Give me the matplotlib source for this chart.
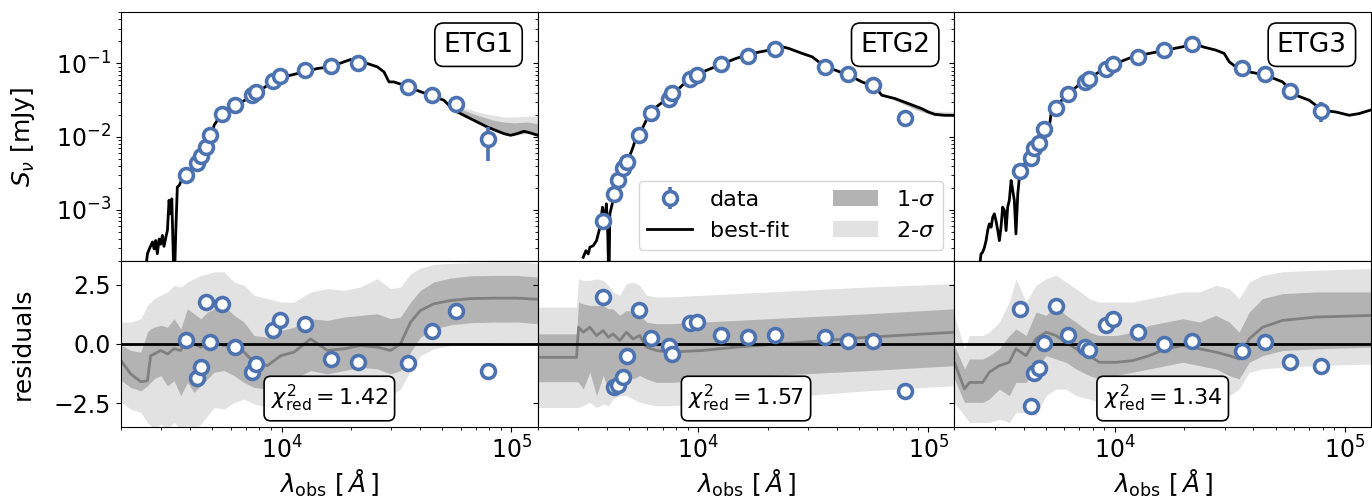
import numpy as np
import matplotlib
matplotlib.use('Agg')
import matplotlib.pyplot as plt
from matplotlib.patches import Patch
from matplotlib.ticker import MultipleLocator

# ---------------- data ----------------
names = ['ETG1', 'ETG2', 'ETG3']
chi2_red = [1.42, 1.57, 1.34]

wave = [3850, 4290, 4460, 4690, 4900, 5520, 6250, 7430, 7710, 9160, 9840,
        12590, 16400, 21530, 35600, 44900, 57500, 79000]

flux1 = [2.98e-3, 4.4e-3, 5.37e-3, 7.2e-3, 0.0104, 0.0207, 0.0274, 0.0371, 0.0405,
         0.0573, 0.0664, 0.0817, 0.0927, 0.103, 0.0473, 0.0376, 0.0283, 0.0092]
flux2 = [6.98e-4, 1.64e-3, 2.52e-3, 3.76e-3, 4.49e-3, 0.0104, 0.0213, 0.0324, 0.0392,
         0.061, 0.0698, 0.0969, 0.126, 0.157, 0.0898, 0.0713, 0.050, 0.0177]
flux3 = [3.42e-3, 5.05e-3, 6.99e-3, 8.26e-3, 0.0126, 0.0247, 0.0388, 0.056, 0.0615,
         0.0853, 0.0978, 0.1245, 0.152, 0.186, 0.0871, 0.0721, 0.0426, 0.0227]

err1 = [1e-4, 1e-4, 1e-4, 1e-4, 2e-4, 3e-4, 4e-4, 5e-4, 5e-4, 8e-4, 9e-4,
        1e-3, 1e-3, 1e-3, 1e-3, 1e-3, 1.5e-3, 4.5e-3]
err2 = [3e-5, 5e-5, 8e-5, 1e-4, 1e-4, 2e-4, 3e-4, 5e-4, 5e-4, 8e-4, 9e-4,
        1e-3, 1e-3, 1e-3, 1e-3, 1e-3, 1.5e-3, 4.0e-3]
err3 = [1e-4, 1e-4, 1e-4, 1e-4, 2e-4, 3e-4, 4e-4, 5e-4, 5e-4, 8e-4, 9e-4,
        1e-3, 1e-3, 1e-3, 1e-3, 1e-3, 1.5e-3, 6.8e-3]

res1 = [0.15, -1.46, -0.96, 1.76, 0.07, 1.69, -0.14, -1.20, -0.85, 0.58, 0.99,
        0.82, -0.64, -0.78, -0.79, 0.56, 1.37, -1.16]
res2 = [1.96, -1.81, -1.74, -1.39, -0.50, 1.41, 0.24, -0.10, -0.45, 0.87, 0.92,
        0.39, 0.28, 0.39, 0.30, 0.14, 0.10, -1.98]
res3 = [1.48, -2.61, -1.23, -1.00, 0.03, 1.58, 0.38, -0.14, -0.27, 0.80, 1.03,
        0.48, 0.01, 0.13, -0.30, 0.07, -0.75, -0.93]

# best-fit model spectra: log10(lambda/A), log10(S/mJy)
m1_loglam = [3.409, 3.416, 3.4275, 3.438, 3.445, 3.452, 3.459, 3.467, 3.474, 3.481,
             3.488, 3.496, 3.503, 3.510, 3.517, 3.522, 3.526, 3.530, 3.535, 3.539,
             3.546, 3.554, 3.564, 3.584, 3.619, 3.662, 3.691, 3.706, 3.720, 3.742,
             3.793, 3.865, 3.981, 4.097, 4.155, 4.213, 4.271, 4.300, 4.336, 4.372,
             4.416, 4.445, 4.467, 4.488, 4.532, 4.553, 4.648, 4.706, 4.749, 4.764,
             4.822, 4.894, 4.967, 4.996, 5.025, 5.054, 5.083, 5.115]
m1_logS = [-3.80, -3.60, -3.51, -3.44, -3.535, -3.42, -3.60, -3.40, -3.47, -3.35,
           -3.50, -3.375, -3.28, -2.87, -3.055, -2.85, -3.33, -3.80, -3.80, -3.33,
           -2.69, -2.667, -2.60, -2.553, -2.393, -2.233, -2.051, -1.845, -1.777, -1.708,
           -1.585, -1.457, -1.206, -1.115, -1.069, -1.046, -0.978, -0.946, -0.978, -1.0,
           -1.046, -1.115, -1.252, -1.252, -1.297, -1.329, -1.434, -1.503, -1.640, -1.663,
           -1.754, -1.868, -1.959, -1.982, -1.959, -1.927, -1.950, -1.982]

m2_loglam = [3.499, 3.511, 3.521, 3.528, 3.543, 3.557, 3.572, 3.583, 3.593, 3.600,
             3.606, 3.609, 3.612, 3.615, 3.629, 3.651, 3.673, 3.694, 3.716, 3.730,
             3.745, 3.788, 3.817, 3.875, 3.947, 4.019, 4.091, 4.163, 4.235, 4.307,
             4.365, 4.394, 4.452, 4.495, 4.524, 4.553, 4.596, 4.654, 4.712, 4.769,
             4.798, 4.856, 4.914, 4.972, 5.0, 5.029, 5.072, 5.113]
m2_logS = [-3.649, -3.558, -3.603, -3.512, -3.489, -3.421, -3.238, -2.964, -3.147, -2.918,
           -3.329, -3.80, -3.80, -3.055, -2.873, -2.599, -2.416, -2.325, -2.142, -2.005,
           -1.959, -1.685, -1.594, -1.457, -1.252, -1.115, -1.023, -0.932, -0.863, -0.818,
           -0.772, -0.795, -0.863, -0.909, -0.978, -1.046, -1.092, -1.160, -1.252, -1.320,
           -1.434, -1.480, -1.548, -1.617, -1.663, -1.695, -1.708, -1.708]

m3_loglam = [3.410, 3.417, 3.424, 3.432, 3.439, 3.446, 3.453, 3.461, 3.468, 3.475,
             3.482, 3.490, 3.497, 3.504, 3.511, 3.519, 3.526, 3.533, 3.540, 3.548,
             3.555, 3.562, 3.569, 3.577, 3.584, 3.613, 3.656, 3.700, 3.714, 3.722,
             3.743, 3.787, 3.859, 3.932, 4.004, 4.077, 4.149, 4.222, 4.294, 4.352,
             4.381, 4.439, 4.475, 4.497, 4.526, 4.584, 4.656, 4.729, 4.787, 4.845,
             4.903, 4.961, 5.019, 5.062, 5.109]
m3_logS = [-3.80, -3.603, -3.58, -3.512, -3.421, -3.284, -3.192, -3.238, -3.101, -3.055,
           -3.147, -3.284, -3.421, -3.238, -2.964, -3.010, -3.284, -2.964, -2.873, -2.599,
           -2.736, -2.873, -3.329, -2.781, -2.553, -2.325, -2.142, -1.959, -1.868, -1.685,
           -1.594, -1.434, -1.252, -1.115, -1.0, -0.909, -0.863, -0.818, -0.772, -0.726,
           -0.772, -0.818, -0.863, -0.978, -1.046, -1.115, -1.160, -1.252, -1.434, -1.503,
           -1.640, -1.663, -1.708, -1.685, -1.640]

# model uncertainty bands in the SED panels (log10 S)
b1_loglam = [4.70, 4.793, 4.851, 4.923, 4.967, 5.01, 5.068, 5.115]
b1_hi2 = [-1.50, -1.603, -1.663, -1.708, -1.731, -1.731, -1.722, -1.722]
b1_hi1 = [-1.50, -1.640, -1.708, -1.777, -1.80, -1.813, -1.80, -1.822]
b1_lo1 = [-1.51, -1.72, -1.81, -1.915, -1.965, -1.975, -1.945, -1.99]
b1_lo2 = [-1.52, -1.73, -1.82, -1.925, -1.975, -1.985, -1.955, -2.0]

b2_loglam = [4.85, 4.95, 5.03, 5.113]
b2_hi2 = [-1.46, -1.58, -1.65, -1.66]
b2_hi1 = [-1.47, -1.60, -1.675, -1.685]
b2_lo1 = [-1.49, -1.63, -1.71, -1.72]
b2_lo2 = [-1.50, -1.64, -1.72, -1.73]

# residual bands
r1_loglam = [3.304, 3.343, 3.387, 3.416, 3.430, 3.445, 3.474, 3.503, 3.532, 3.561,
             3.590, 3.619, 3.648, 3.677, 3.706, 3.749, 3.793, 3.836, 3.880, 3.938,
             3.996, 4.054, 4.126, 4.199, 4.271, 4.343, 4.416, 4.474, 4.517, 4.561,
             4.604, 4.662, 4.735, 4.822, 4.923, 5.025, 5.115]
r1_med = [-0.75, -1.27, -1.60, -1.56, -0.50, -0.43, -0.28, -0.43, -0.21, -0.28,
          0.35, 0.00, -0.14, 0.00, 0.07, -0.07, 0.00, -0.35, -0.78, -0.92,
          -0.50, -0.35, 0.21, -0.28, -0.21, -0.07, -0.14, -0.28, 0.00, 0.92,
          1.41, 1.69, 1.83, 1.91, 1.93, 1.93, 1.88]
r1_hi1 = [-0.07, -0.28, -0.35, 0.49, 0.63, 0.70, 0.78, 0.70, 1.06, 0.63,
          1.48, 1.27, 1.06, 1.34, 1.48, 1.62, 1.20, 0.92, 0.35, 0.28,
          0.56, 0.70, 1.06, 0.99, 1.13, 1.20, 1.27, 1.06, 1.13, 1.76,
          2.26, 2.61, 2.78, 2.87, 2.89, 2.89, 2.82]
r1_lo1 = [-1.56, -1.84, -1.98, -1.77, -1.63, -1.48, -1.34, -1.77, -1.56, -2.19,
          -1.63, -2.05, -1.77, -1.48, -1.20, -1.13, -1.34, -1.63, -1.84, -1.91,
          -1.63, -1.48, -1.13, -1.27, -1.13, -0.99, -1.06, -1.27, -1.13, -0.35,
          0.28, 0.63, 0.80, 0.89, 0.92, 0.92, 0.85]
r1_hi2 = [0.92, 0.92, 1.06, 1.62, 1.76, 1.91, 2.05, 2.19, 2.47, 2.40,
          2.61, 2.75, 2.89, 2.96, 3.04, 3.04, 2.61, 2.47, 2.05, 1.91,
          1.76, 1.76, 2.19, 2.33, 2.26, 2.40, 2.75, 2.33, 2.40, 2.96,
          3.20, 3.35, 3.40, 3.43, 3.46, 3.46, 3.40]
r1_lo2 = [-2.47, -2.76, -2.90, -3.32, -3.46, -3.60, -3.39, -3.60, -3.32, -3.60,
          -3.46, -3.60, -3.39, -3.04, -2.69, -2.76, -2.47, -2.33, -2.54, -2.69,
          -2.47, -2.33, -2.19, -2.26, -2.12, -1.98, -2.05, -2.19, -1.91, -1.13,
          -0.50, -0.21, -0.07, -0.02, 0.03, 0.04, 0.00]

r2_loglam = [3.301, 3.384, 3.470, 3.479, 3.499, 3.528, 3.557, 3.586, 3.608, 3.629,
             3.658, 3.687, 3.716, 3.745, 3.774, 3.817, 3.875, 4.019, 4.163, 4.452,
             4.740, 5.115]
r2_med = [-0.57, -0.57, -0.57, 0.70, 0.49, 0.70, 0.35, 0.56, 0.28, 0.42,
          0.14, 0.49, 0.21, 0.35, -0.14, -0.28, -0.35, -0.28, -0.14, 0.07,
          0.28, 0.49]
r2_hi1 = [0.42, 0.42, 0.42, 1.76, 1.69, 1.62, 1.62, 1.62, 1.48, 1.48,
          1.20, 1.41, 1.34, 1.27, 0.92, 0.85, 0.85, 0.92, 0.99, 1.13,
          1.27, 1.48]
r2_lo1 = [-1.60, -1.60, -1.60, -1.63, -1.91, -1.20, -2.19, -1.34, -1.91, -1.48,
          -1.34, -1.20, -1.48, -1.34, -1.48, -1.63, -1.63, -1.56, -1.41, -1.27,
          -1.13, -0.92]
r2_hi2 = [1.55, 1.55, 1.55, 2.75, 2.68, 2.68, 2.75, 2.68, 2.47, 2.19,
          2.05, 2.54, 2.61, 2.47, 2.05, 1.98, 1.98, 2.05, 2.12, 2.26,
          2.40, 2.54]
r2_lo2 = [-2.69, -2.69, -2.69, -2.69, -2.61, -2.47, -2.69, -2.54, -2.61, -2.33,
          -2.19, -2.19, -2.33, -2.47, -2.54, -2.61, -2.61, -2.54, -2.40, -2.19,
          -1.98, -1.77]

r3_loglam = [3.301, 3.345, 3.367, 3.424, 3.453, 3.497, 3.540, 3.569, 3.613, 3.656,
             3.700, 3.743, 3.787, 3.830, 3.888, 3.932, 4.004, 4.077, 4.149, 4.222,
             4.294, 4.367, 4.439, 4.497, 4.540, 4.584, 4.642, 4.729, 4.874, 5.115]
r3_med = [-0.78, -1.91, -1.63, -1.63, -1.20, -0.92, -0.78, -0.21, -0.50, 0.21,
          0.49, 0.35, 0.07, -0.21, -0.50, -0.78, -0.78, -0.71, -0.50, -0.21,
          -0.07, -0.21, -0.35, -0.50, -0.64, 0.21, 0.70, 0.99, 1.13, 1.20]
r3_hi1 = [-0.07, -1.06, -0.64, -0.64, -0.50, -0.21, 0.35, 0.63, 0.35, 1.34,
          1.20, 1.62, 1.20, 0.92, 0.49, 0.35, 0.35, 0.49, 0.78, 0.92,
          1.06, 0.92, 1.20, 0.92, 0.49, 1.34, 1.91, 2.12, 2.19, 2.19]
r3_lo1 = [-1.48, -2.47, -2.47, -2.47, -2.33, -1.91, -2.19, -1.63, -1.63, -1.06,
          -0.50, -0.64, -0.78, -1.06, -1.34, -1.48, -1.34, -1.20, -1.06, -0.92,
          -0.78, -0.92, -1.06, -1.34, -1.48, -0.78, -0.50, -0.28, -0.21, -0.14]
r3_hi2 = [1.20, -0.21, 0.35, 0.35, 0.49, 0.92, 1.76, 2.75, 1.76, 2.47,
          2.75, 2.89, 2.61, 2.33, 1.91, 1.76, 1.76, 1.76, 1.91, 2.05,
          2.19, 2.19, 2.47, 2.33, 1.91, 2.61, 2.89, 3.04, 3.11, 3.18]
r3_lo2 = [-2.47, -3.04, -3.32, -3.32, -3.32, -3.18, -3.32, -2.90, -2.90, -3.04,
          -2.19, -1.91, -1.91, -2.19, -2.33, -2.47, -2.33, -2.33, -2.19, -2.05,
          -1.91, -2.05, -2.05, -2.19, -1.91, -1.20, -1.06, -0.99, -0.92, -0.85]

# ---------------- plotting ----------------
BLUE = '#4C72B0'
C1 = '0.70'
C2 = '0.885'

fig = plt.figure(figsize=(13.72, 5.01), dpi=100)
gs = fig.add_gridspec(2, 3, height_ratios=[1.5, 1], left=0.0882, right=0.9993,
                      top=0.9754, bottom=0.1483, wspace=0, hspace=0)

fluxes = [flux1, flux2, flux3]
errs = [err1, err2, err3]
resids = [res1, res2, res3]
models = [(m1_loglam, m1_logS), (m2_loglam, m2_logS), (m3_loglam, m3_logS)]
bands = [(b1_loglam, b1_lo2, b1_lo1, b1_hi1, b1_hi2),
         (b2_loglam, b2_lo2, b2_lo1, b2_hi1, b2_hi2), None]
rbands = [(r1_loglam, r1_med, r1_lo1, r1_hi1, r1_lo2, r1_hi2),
          (r2_loglam, r2_med, r2_lo1, r2_hi1, r2_lo2, r2_hi2),
          (r3_loglam, r3_med, r3_lo1, r3_hi1, r3_lo2, r3_hi2)]

TICK = 17
mk = dict(fmt='o', ms=10, mfc='white', mec=BLUE, mew=2.6, ecolor=BLUE,
          elinewidth=2.6, capsize=0)

top0 = None
bot0 = None
for i in range(3):
    axt = fig.add_subplot(gs[0, i], sharey=top0)
    axb = fig.add_subplot(gs[1, i], sharex=axt, sharey=bot0)
    if i == 0:
        top0, bot0 = axt, axb

    # SED panel
    if bands[i] is not None:
        bl, lo2, lo1, hi1, hi2 = bands[i]
        x = np.power(10.0, bl)
        axt.fill_between(x, np.power(10.0, lo2), np.power(10.0, hi2), color=C2, lw=0, zorder=1)
        axt.fill_between(x, np.power(10.0, lo1), np.power(10.0, hi1), color=C1, lw=0, zorder=1.5)
    ml, ms_ = models[i]
    line, = axt.plot(np.power(10.0, ml), np.power(10.0, ms_), color='k', lw=2, zorder=2)
    eb = axt.errorbar(wave, fluxes[i], yerr=errs[i], zorder=5, **mk)
    axt.set_xscale('log')
    axt.set_yscale('log')
    axt.set_xlim(2000, 1.3e5)
    axt.set_ylim(2e-4, 0.5)
    axt.tick_params(labelbottom=False, labelsize=TICK)
    axt.text(0.942, 0.922, names[i], transform=axt.transAxes, ha='right', va='top',
             fontsize=19, zorder=10,
             bbox=dict(boxstyle='round,pad=0.33', fc='white', ec='k', lw=1.2))

    # residual panel
    rl, med, lo1, hi1, lo2, hi2 = rbands[i]
    xr = np.power(10.0, rl)
    axb.fill_between(xr, lo2, hi2, color=C2, lw=0, zorder=1)
    axb.fill_between(xr, lo1, hi1, color=C1, lw=0, zorder=1.5)
    axb.plot(xr, med, color='0.5', lw=2, zorder=2)
    axb.axhline(0, color='k', lw=2, zorder=3)
    axb.plot(wave, resids[i], 'o', ms=10, mfc='white', mec=BLUE, mew=2.6, zorder=5)
    axb.set_ylim(-3.5, 3.5)
    axb.yaxis.set_major_locator(MultipleLocator(2.5))
    axb.tick_params(labelsize=TICK)
    axb.set_xlabel(r'$\lambda_{\rm obs}\ [\,\AA\,]$', fontsize=18, labelpad=3)
    axb.text(0.5, 0.17, r'$\chi^2_{\rm red} = %.2f$' % chi2_red[i], transform=axb.transAxes,
             ha='center', va='center', fontsize=16, zorder=10,
             bbox=dict(boxstyle='round,pad=0.3', fc='white', ec='k', lw=1.2))

    if i == 0:
        axt.set_ylabel(r'$S_\nu$ [mJy]', fontsize=18, labelpad=14)
        axb.set_ylabel('residuals', fontsize=18, labelpad=14)
    else:
        axt.tick_params(labelleft=False)
        axb.tick_params(labelleft=False)

    if i == 1:
        handles = [eb, line,
                   Patch(facecolor=C1, edgecolor='none'),
                   Patch(facecolor=C2, edgecolor='none')]
        labels = ['data', 'best-fit', r'1-$\sigma$', r'2-$\sigma$']
        axt.legend(handles, labels, loc='lower right', ncol=2, fontsize=16)

fig.savefig('out.png', dpi=100)
